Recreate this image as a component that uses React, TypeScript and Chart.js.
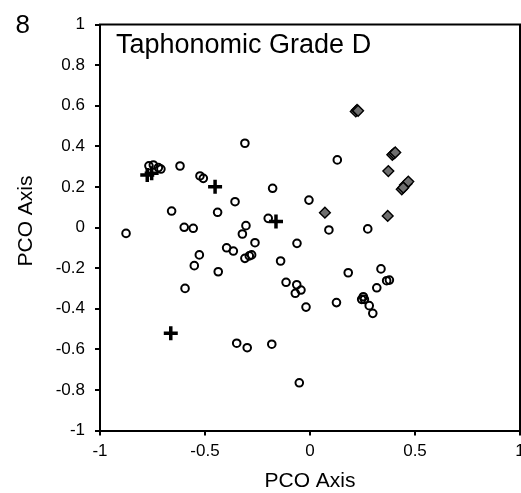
import { useEffect, useRef } from "react";
import { Chart, registerables } from "chart.js";

Chart.register(...registerables);

const FONT = '"Liberation Sans", Arial, Helvetica, sans-serif';

const chartTitle = "Taphonomic Grade D";
const panelLabel = "8";
const xAxisTitle = "PCO Axis";
const yAxisTitle = "PCO Axis";

const xTicks = [-1, -0.5, 0, 0.5, 1];
const yTicks = [-1, -0.8, -0.6, -0.4, -0.2, 0, 0.2, 0.4, 0.6, 0.8, 1];

// open circles
const circleX = [
  -0.31, -0.767, -0.746, -0.722, -0.71, -0.619, -0.524, -0.508, -0.178, -0.005,
  -0.357, -0.659, -0.44, -0.199, -0.305, -0.599, -0.556, -0.876, -0.322, -0.262,
  -0.062, -0.397, -0.365, -0.31, -0.289, -0.278, -0.527, -0.14, -0.551, -0.437,
  -0.114, -0.063, -0.043, -0.07, -0.595, -0.019, 0.126, -0.349, -0.299, -0.182,
  -0.051, 0.13, 0.09, 0.275, 0.182, 0.338, 0.365, 0.378, 0.318, 0.254,
  0.246, 0.259, 0.282, 0.299,
];
const circleY = [
  0.415, 0.304, 0.308, 0.295, 0.288, 0.303, 0.254, 0.242, 0.193, 0.135,
  0.127, 0.081, 0.075, 0.045, 0.009, 0.001, -0.004, -0.029, -0.032, -0.075,
  -0.078, -0.1, -0.116, -0.152, -0.14, -0.135, -0.135, -0.165, -0.188, -0.218,
  -0.27, -0.282, -0.308, -0.324, -0.3, -0.392, -0.37, -0.57, -0.592, -0.575,
  -0.765, 0.333, -0.012, -0.007, -0.223, -0.204, -0.262, -0.259, -0.297, -0.341,
  -0.354, -0.354, -0.385, -0.423,
];

// plus markers
const plusX = [-0.775, -0.754, -0.452, -0.162, -0.663];
const plusY = [0.259, 0.267, 0.201, 0.029, -0.521];

// grey diamonds
const diamondX = [
  0.218, 0.224, 0.229, 0.392, 0.399, 0.406, 0.373, 0.452, 0.46, 0.468, 0.437, 0.444, 0.071, 0.37,
];
const diamondY = [
  0.572, 0.579, 0.575, 0.358, 0.364, 0.37, 0.278, 0.209, 0.216, 0.226, 0.188, 0.196, 0.073, 0.057,
];

const toPoints = (xs: number[], ys: number[]) => xs.map((x, i) => ({ x, y: ys[i] }));

const framePlugin = {
  id: "frameAndLabels",
  afterDraw(chart: any) {
    const { ctx, chartArea } = chart;
    const { left, top, right, bottom } = chartArea;
    ctx.save();
    // top and right edges of the plot box
    ctx.strokeStyle = "#000";
    ctx.lineWidth = 2;
    ctx.beginPath();
    ctx.moveTo(left - 1, top);
    ctx.lineTo(right, top);
    ctx.lineTo(right, bottom + 1);
    ctx.stroke();

    ctx.fillStyle = "#000";
    ctx.textBaseline = "alphabetic";

    ctx.textAlign = "left";
    ctx.font = `27px ${FONT}`;
    ctx.fillText(chartTitle, left + 16, top + 28);

    ctx.font = `26px ${FONT}`;
    ctx.fillText(panelLabel, 15.5, 32.5);

    ctx.textAlign = "center";
    ctx.font = `21px ${FONT}`;
    ctx.fillText(xAxisTitle, (left + right) / 2, 487);

    ctx.translate(32, 221);
    ctx.rotate(-Math.PI / 2);
    ctx.fillText(yAxisTitle, 0, 0);
    ctx.restore();
  },
};

export default function App() {
  const canvasRef = useRef<HTMLCanvasElement | null>(null);

  useEffect(() => {
    const canvas = canvasRef.current;
    if (!canvas) return;

    const tickFont = { family: FONT, size: 17 };
    const grid = {
      drawOnChartArea: false,
      drawTicks: true,
      tickLength: 5,
      lineWidth: 2,
      color: "#000",
    };
    const border = { display: true, color: "#000", width: 2 };

    const chart = new Chart(canvas, {
      type: "scatter",
      data: {
        datasets: [
          {
            label: "circles",
            data: toPoints(circleX, circleY),
            pointStyle: "circle",
            pointRadius: 3.8,
            borderWidth: 2,
            borderColor: "#000",
            backgroundColor: "rgba(0,0,0,0)",
          },
          {
            label: "diamonds",
            data: toPoints(diamondX, diamondY),
            pointStyle: "rectRot",
            pointRadius: 5.4,
            borderWidth: 1.4,
            borderColor: "#000",
            backgroundColor: "#6e6e6e",
          },
          {
            label: "plus",
            data: toPoints(plusX, plusY),
            pointStyle: "cross",
            pointRadius: 7,
            borderWidth: 3.5,
            borderColor: "#000",
            backgroundColor: "#000",
          },
        ],
      },
      options: {
        responsive: false,
        animation: false,
        events: [],
        layout: { autoPadding: false, padding: { top: 24.5, right: 1, left: 0, bottom: 0 } },
        plugins: {
          legend: { display: false },
          tooltip: { enabled: false },
          title: { display: false },
        },
        scales: {
          x: {
            type: "linear",
            min: -1,
            max: 1,
            afterBuildTicks: (s: any) => {
              s.ticks = xTicks.map((v) => ({ value: v }));
            },
            afterFit: (s: any) => {
              s.height = 62.5;
              s.paddingLeft = 0;
              s.paddingRight = 0;
            },
            ticks: {
              font: tickFont,
              color: "#000",
              padding: 6,
              autoSkip: false,
              maxRotation: 0,
              callback: (v: any) => String(v),
            },
            grid,
            border,
          },
          y: {
            type: "linear",
            min: -1,
            max: 1,
            afterBuildTicks: (s: any) => {
              s.ticks = yTicks.map((v) => ({ value: v }));
            },
            afterFit: (s: any) => {
              s.width = 100;
              s.paddingTop = 0;
              s.paddingBottom = 0;
            },
            ticks: {
              font: tickFont,
              color: "#000",
              padding: 10,
              autoSkip: false,
              callback: (v: any) => String(v),
            },
            grid,
            border,
          },
        },
      },
      plugins: [framePlugin],
    });

    return () => chart.destroy();
  }, []);

  return (
    <div style={{ position: "fixed", left: 0, top: 0, width: 521, height: 493, background: "#fff" }}>
      <canvas ref={canvasRef} width={521} height={493} style={{ display: "block" }} />
    </div>
  );
}
